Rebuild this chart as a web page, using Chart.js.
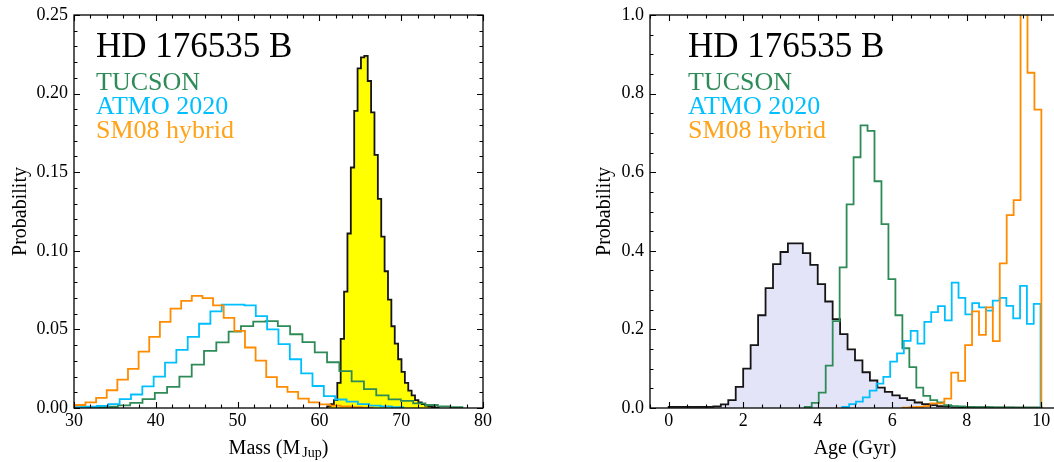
<!DOCTYPE html>
<html><head><meta charset="utf-8">
<script src="https://cdn.jsdelivr.net/npm/chart.js@4.4.0/dist/chart.umd.min.js"></script>
<style>
html,body{margin:0;padding:0;background:#fff;overflow:hidden;width:1054px;height:462px;position:relative;}
#c1{position:absolute;left:0;top:0;}
#c2{position:absolute;left:560px;top:0;}
</style></head><body>
<canvas id="c1" width="500" height="462"></canvas>
<canvas id="c2" width="520" height="462"></canvas>
<script>
// ---------- tick labels ----------
const massTicks = [30, 40, 50, 60, 70, 80];
const massProbTicks = [0, 0.05, 0.10, 0.15, 0.20, 0.25];
const ageTicks = [0, 2, 4, 6, 8, 10];
const ageProbTicks = [0, 0.2, 0.4, 0.6, 0.8, 1.0];

// ---------- names ----------
const objectName = "HD 176535 B";
const modelNames = ["TUCSON", "ATMO 2020", "SM08 hybrid"];

// ---------- mass histograms (bin start, bin width, probabilities) ----------
const massObsStart = 60.95, massObsWidth = 0.413;
const massObs = [0.001, 0.0025, 0.005, 0.016, 0.044, 0.074, 0.111, 0.153, 0.189, 0.216, 0.223, 0.224,
  0.208, 0.188, 0.161, 0.133, 0.109, 0.087, 0.069, 0.052, 0.041, 0.031, 0.023, 0.016, 0.011, 0.008,
  0.005, 0.0035, 0.0025, 0.0015, 0.001, 0.0006, 0.0003];

const massTucsonStart = 29.35, massTucsonWidth = 1.504;
const massTucson = [0.0003, 0.0004, 0.0005, 0.0008, 0.0017, 0.0033, 0.0057, 0.0096, 0.0134, 0.020,
  0.0276, 0.0364, 0.0417, 0.0486, 0.0521, 0.0549, 0.0553, 0.0521, 0.0469, 0.0419, 0.0354, 0.0291,
  0.0235, 0.017, 0.012, 0.008, 0.0055, 0.0045, 0.003, 0.0019, 0.001, 0.0005];

const massAtmoStart = 30.03, massAtmoWidth = 1.387;
const massAtmo = [0.0006, 0.0008, 0.0013, 0.0025, 0.0057, 0.0086, 0.0138, 0.020, 0.0289, 0.037,
  0.0452, 0.0536, 0.0615, 0.0657, 0.0657, 0.0653, 0.0584, 0.050, 0.0406, 0.031, 0.022, 0.014,
  0.0075, 0.0054, 0.004, 0.0025, 0.0015, 0.001, 0.0005];

const massSm08Start = 30.1, massSm08Width = 1.3;
const massSm08 = [0.0019, 0.0036, 0.0065, 0.0113, 0.018, 0.0249, 0.0358, 0.0452, 0.0548, 0.0632,
  0.0682, 0.0713, 0.0699, 0.0653, 0.0573, 0.049, 0.0385, 0.0301, 0.0197, 0.0134, 0.0103, 0.006,
  0.0036, 0.0023, 0.0015, 0.001, 0.0006, 0.0003];

// ---------- age histograms ----------
const ageObsStart = 0, ageObsWidth = 0.2;
const ageObs = [0.003, 0.003, 0.003, 0.003, 0.003, 0.003, 0.004, 0.009, 0.02, 0.054, 0.1, 0.16,
  0.236, 0.305, 0.366, 0.397, 0.419, 0.419, 0.394, 0.364, 0.315, 0.271, 0.226, 0.188, 0.149, 0.121,
  0.091, 0.07, 0.052, 0.041, 0.032, 0.025, 0.02, 0.014, 0.01, 0.0075, 0.005, 0.004, 0.003, 0.002,
  0.002, 0.0015, 0.0015, 0.001, 0.001, 0.001, 0.001, 0.001, 0.001, 0.001];

const ageTucsonStart = 3.653, ageTucsonWidth = 0.187;
const ageTucson = [0.003, 0.013, 0.039, 0.108, 0.221, 0.358, 0.518, 0.638, 0.719, 0.705, 0.577,
  0.468, 0.328, 0.236, 0.152, 0.104, 0.052, 0.031, 0.02, 0.014, 0.007, 0.005, 0.004, 0.003, 0.002,
  0.002, 0.002, 0.0015, 0.0015, 0.0015, 0.001, 0.001, 0.001, 0.001];

const ageAtmoStart = 4.66, ageAtmoWidth = 0.1834;
const ageAtmo = [0.003, 0.01, 0.016, 0.027, 0.044, 0.062, 0.079, 0.118, 0.139, 0.171, 0.196, 0.164,
  0.219, 0.244, 0.259, 0.223, 0.319, 0.28, 0.238, 0.267, 0.256, 0.248, 0.273, 0.28, 0.26, 0.228,
  0.311, 0.214, 0.265];

const ageSm08Start = 6.28, ageSm08Width = 0.186;
const ageSm08 = [0.001, 0.002, 0.003, 0.005, 0.012, 0.012, 0.024, 0.09, 0.069, 0.16, 0.246, 0.186,
  0.256, 0.17, 0.368, 0.491, 0.529, 1.2, 0.853, 0.759];

// ---------- helpers ----------
function histPoints(start, width, values) {
  const pts = [{x: start, y: 0}];
  values.forEach((v, i) => pts.push({x: start + i * width, y: v}));
  const end = start + values.length * width;
  pts.push({x: end, y: values[values.length - 1]});
  pts.push({x: end, y: 0});
  return pts;
}
function stepSet(points, color, fillColor) {
  return {
    data: points, borderColor: color, borderWidth: 1.8, stepped: 'before',
    pointRadius: 0, tension: 0,
    fill: fillColor ? 'origin' : false,
    backgroundColor: fillColor || 'transparent'
  };
}
function range(min, max, step) {
  const a = [];
  for (let i = 0; min + i * step <= max + 1e-9; i++) a.push(+(min + i * step).toFixed(6));
  return a;
}

const FONT = '"Liberation Serif", "Times New Roman", serif';
const GREEN = '#2e8b57', BLUE = '#00bfff', ORANGE = '#ff8c00';

const framePlugin = {
  id: 'frame',
  afterDatasetsDraw(chart, args, o) {
    const {ctx, chartArea: {left, right, top, bottom}, scales: {x, y}} = chart;
    ctx.save();
    ctx.strokeStyle = '#000';
    ctx.lineWidth = 1.1;
    ctx.beginPath();
    const majX = o.majorX, majY = o.majorY;
    const isMaj = (arr, v) => arr.some(m => Math.abs(m - v) < 1e-6);
    range(x.min, x.max, o.minorX).forEach(v => {
      const len = isMaj(majX, v) ? 6 : 3.5;
      const px = Math.round(x.getPixelForValue(v)) + 0.5;
      ctx.moveTo(px, bottom); ctx.lineTo(px, bottom - len);
      ctx.moveTo(px, top); ctx.lineTo(px, top + len);
    });
    range(y.min, y.max, o.minorY).forEach(v => {
      const len = isMaj(majY, v) ? 6 : 3.5;
      const py = Math.round(y.getPixelForValue(v)) + 0.5;
      ctx.moveTo(left, py); ctx.lineTo(left + len, py);
      ctx.moveTo(right, py); ctx.lineTo(right - len, py);
    });
    ctx.stroke();
    ctx.lineWidth = 1.3;
    ctx.strokeRect(left, top, right - left, bottom - top);
    ctx.restore();
  },
  afterDraw(chart, args, o) {
    const ctx = chart.ctx;
    const {left, right, top, bottom} = chart.chartArea;
    ctx.save();
    ctx.textAlign = 'left';
    ctx.textBaseline = 'alphabetic';
    ctx.fillStyle = '#000';
    ctx.font = '35px ' + FONT;
    ctx.fillText(objectName, o.textX, 57);
    ctx.font = '26px ' + FONT;
    [GREEN, BLUE, '#ffa31a'].forEach((c, i) => {
      ctx.fillStyle = c;
      ctx.fillText(modelNames[i], o.textX, 89.5 + 24 * i);
    });
    // x title (with optional subscript)
    ctx.fillStyle = '#000';
    const big = '20px ' + FONT, small = '14px ' + FONT;
    ctx.font = big; const w1 = ctx.measureText(o.xTitle[0]).width;
    ctx.font = small; const w2 = o.xTitle[1] ? ctx.measureText(o.xTitle[1]).width + 2 : 0;
    ctx.font = big; const w3 = o.xTitle[2] ? ctx.measureText(o.xTitle[2]).width : 0;
    let xs = (left + right) / 2 - (w1 + w2 + w3) / 2;
    const base = 453.5;
    ctx.font = big; ctx.fillText(o.xTitle[0], xs, base); xs += w1;
    if (o.xTitle[1]) { ctx.font = small; ctx.fillText(o.xTitle[1], xs + 2, base + 3.5); xs += w2; }
    if (o.xTitle[2]) { ctx.font = big; ctx.fillText(o.xTitle[2], xs, base); }
    // y title
    ctx.translate(o.yTitleX, (top + bottom) / 2);
    ctx.rotate(-Math.PI / 2);
    ctx.textAlign = 'center';
    ctx.font = big;
    ctx.fillText('Probability', 0, 0);
    ctx.restore();
  }
};

function makeChart(id, sets, sc) {
  const tickFont = {family: FONT, size: 18, lineHeight: 1};
  return new Chart(document.getElementById(id), {
    type: 'line',
    data: {datasets: sets},
    plugins: [framePlugin],
    options: {
      responsive: false, animation: false, devicePixelRatio: 1,
      layout: {padding: {top: 10, right: sc.padRight, left: 0, bottom: 0}},
      plugins: {legend: {display: false}, tooltip: {enabled: false}, frame: sc.frame},
      scales: {
        x: {
          type: 'linear', min: sc.xMin, max: sc.xMax,
          afterBuildTicks: s => { s.ticks = sc.xTicks.map(v => ({value: v})); },
          afterFit: s => { s.height = 54; },
          grid: {display: false, drawTicks: false}, border: {display: false},
          ticks: {color: '#000', font: tickFont, padding: 4, maxRotation: 0, autoSkip: false,
                  callback: v => String(v)}
        },
        y: {
          type: 'linear', min: sc.yMin, max: sc.yMax,
          afterBuildTicks: s => { s.ticks = sc.yTicks.map(v => ({value: v})); },
          afterFit: s => { s.width = sc.yWidth; },
          grid: {display: false, drawTicks: false}, border: {display: false},
          ticks: {color: '#000', font: tickFont, padding: 6, autoSkip: false,
                  callback: v => Number(v).toFixed(sc.yDigits)}
        }
      }
    }
  });
}

makeChart('c1', [
  stepSet(histPoints(massSm08Start, massSm08Width, massSm08), ORANGE),
  stepSet(histPoints(massAtmoStart, massAtmoWidth, massAtmo), BLUE),
  stepSet(histPoints(massTucsonStart, massTucsonWidth, massTucson), GREEN),
  stepSet(histPoints(massObsStart, massObsWidth, massObs), '#151515', '#ffff00')
], {
  xMin: 30, xMax: 80, yMin: 0, yMax: 0.25, xTicks: massTicks, yTicks: massProbTicks,
  yDigits: 2, yWidth: 74, padRight: 17,
  frame: {majorX: massTicks, majorY: massProbTicks, minorX: 2, minorY: 0.01,
          textX: 96, yTitleX: 26, xTitle: ['Mass (M', 'Jup', ')']}
});

makeChart('c2', [
  stepSet(histPoints(ageSm08Start, ageSm08Width, ageSm08), ORANGE),
  stepSet(histPoints(ageAtmoStart, ageAtmoWidth, ageAtmo), BLUE),
  stepSet(histPoints(ageTucsonStart, ageTucsonWidth, ageTucson), GREEN),
  stepSet(histPoints(ageObsStart, ageObsWidth, ageObs), '#151515', '#e4e4f8')
], {
  xMin: -0.5, xMax: 10.5, yMin: 0, yMax: 1.0, xTicks: ageTicks, yTicks: ageProbTicks,
  yDigits: 1, yWidth: 90, padRight: 20,
  frame: {majorX: ageTicks, majorY: ageProbTicks, minorX: 0.5, minorY: 0.05,
          textX: 128, yTitleX: 50, xTitle: ['Age (Gyr)', '', '']}
});
</script>
</body></html>
